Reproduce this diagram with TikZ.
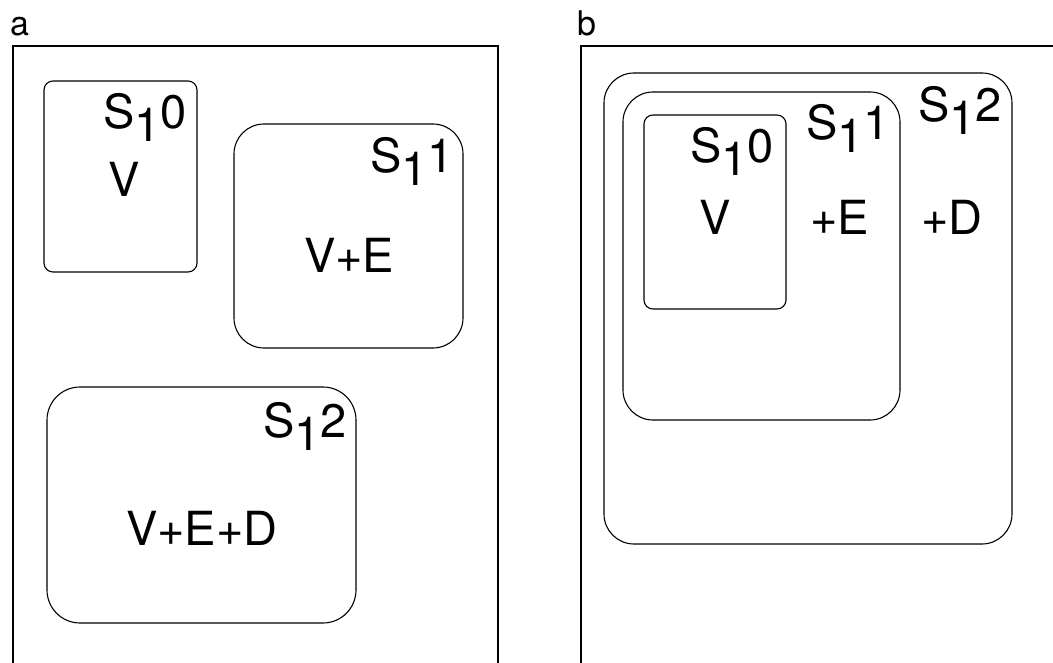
\documentclass[tikz,border=0pt]{standalone}
\usepackage{fontspec}
\setmainfont{TeX Gyre Heros}
\newcommand{\slab}[1]{S\raisebox{-13pt}{1}#1}
\begin{document}
\begin{tikzpicture}[x=1pt,y=-1pt,
  frame/.style={draw,line width=1.3pt},
  set/.style={draw,line width=1.1pt},
  big/.style={font=\fontsize{47}{52}\selectfont,inner sep=0pt,anchor=base west},
  panel/.style={font=\fontsize{34}{40}\selectfont,inner sep=0pt,anchor=base west}]
\useasboundingbox (0,0) rectangle (1053,663);
\clip (0,0) rectangle (1053,663);
% panel labels
\node[panel] (la) at (10,36) {a};
\node[panel] (lb) at (577,36) {b};
% outer frames
\draw[frame] (13,46) rectangle (498,700);
\draw[frame] (581,46) rectangle (1100,700);
% panel a
\draw[set,rounded corners=9pt] (44,81) rectangle (197,272);
\draw[set,rounded corners=30pt] (234,124) rectangle (463,348);
\draw[set,rounded corners=33pt] (47,387) rectangle (356,623);
\node[big] (a0) at (103,129) {\slab{0}};
\node[big] (av) at (108,197) {V};
\node[big] (a1) at (370,173) {\slab{1}};
\node[big] (ave) at (304,273) {V+E};
\node[big] (a2) at (263,437) {\slab{2}};
\node[big] (aved) at (126,545) {V+E+D};
% panel b
\draw[set,rounded corners=30pt] (604,73) rectangle (1012,544);
\draw[set,rounded corners=30pt] (623,92) rectangle (900,420);
\draw[set,rounded corners=9pt] (644,115) rectangle (786,309);
\node[big] (b0) at (690,163) {\slab{0}};
\node[big] (bv) at (699,235) {V};
\node[big] (b1) at (806,140) {\slab{1}};
\node[big] (be) at (810,235) {+E};
\node[big] (b2) at (918,122) {\slab{2}};
\node[big] (bd) at (921,235) {+D};
\end{tikzpicture}
\end{document}
